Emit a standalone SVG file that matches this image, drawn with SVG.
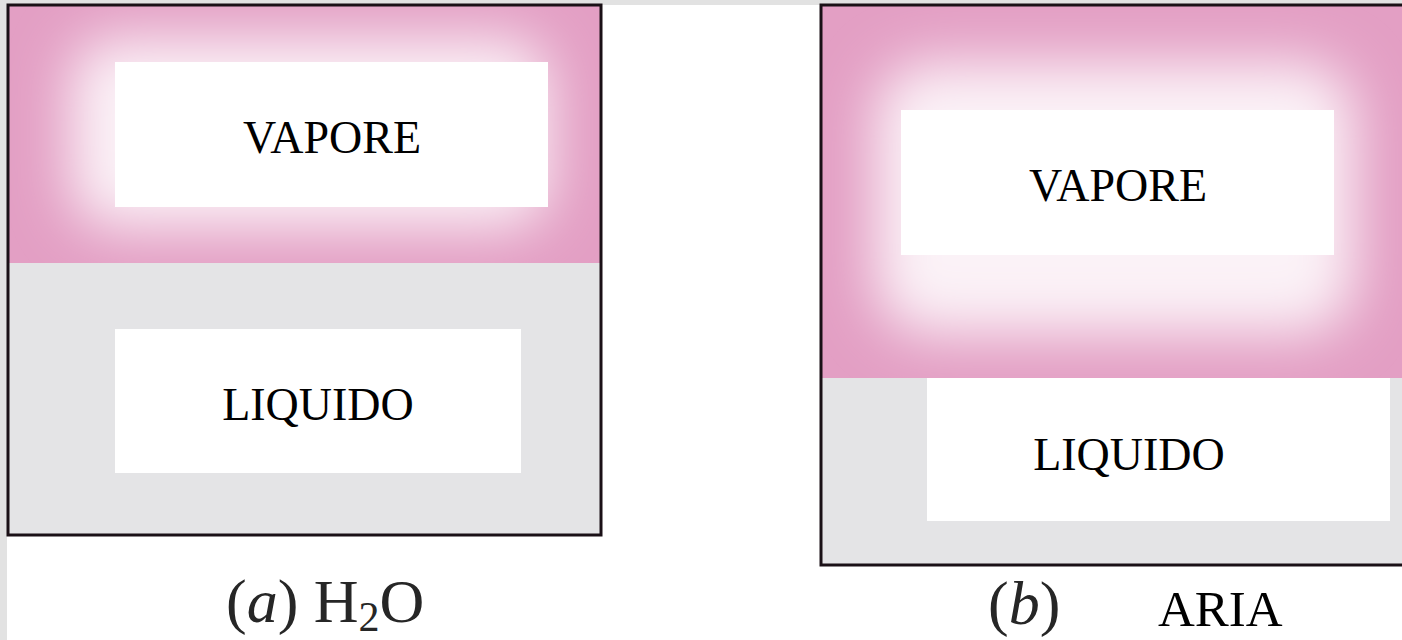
<svg xmlns="http://www.w3.org/2000/svg" width="1402" height="640" viewBox="0 0 1402 640">
  <style>
    .lbl { font-family: "Liberation Serif", "Times New Roman", serif; font-size: 46px; fill: #000; text-anchor: middle; }
    .cap { font-family: "Liberation Serif", "Times New Roman", serif; font-size: 62px; fill: #262626; }
    .box { fill: #ffffff; }
    .liq { fill: #e4e4e6; }
    .pink { fill: #e39fc4; }
    .glow { fill: #fbf2f7; }
    .frame { fill: none; stroke: #1a1016; stroke-width: 3; }
  </style>
  <defs>
    <filter id="soft" x="-50%" y="-50%" width="200%" height="200%">
      <feGaussianBlur stdDeviation="28"/>
    </filter>
    <clipPath id="clipA"><rect x="8" y="5" width="593" height="258"/></clipPath>
    <clipPath id="clipB"><rect x="821" y="5" width="600" height="373"/></clipPath>
  </defs>
  <rect x="0" y="0" width="1402" height="640" fill="#ffffff"/>
  <rect x="0" y="0" width="1402" height="5" fill="#e2e2e2"/>
  <rect x="0" y="0" width="7" height="640" fill="#e2e2e2"/>

  <g id="panel-a">
    <rect class="liq" x="8" y="5" width="593" height="530"/>
    <g clip-path="url(#clipA)">
      <rect class="pink" x="8" y="5" width="593" height="258"/>
      <rect class="glow" x="70" y="38" width="480" height="190" rx="45" filter="url(#soft)"/>
    </g>
    <rect class="frame" x="8" y="5" width="593" height="530"/>
  </g>
  <g id="vapore-a">
    <rect class="box" x="115" y="62" width="433" height="145"/>
    <text class="lbl" x="332" y="153">VAPORE</text>
  </g>
  <g id="liquido-a">
    <rect class="box" x="115" y="329" width="406" height="144"/>
    <text class="lbl" x="318" y="420">LIQUIDO</text>
  </g>

  <g id="panel-b">
    <rect class="liq" x="821" y="5" width="600" height="560"/>
    <g clip-path="url(#clipB)">
      <rect class="pink" x="821" y="5" width="600" height="373"/>
      <rect class="glow" x="875" y="62" width="480" height="272" rx="55" filter="url(#soft)"/>
    </g>
    <rect class="frame" x="821" y="5" width="600" height="560"/>
  </g>
  <g id="vapore-b">
    <rect class="box" x="901" y="110" width="433" height="145"/>
    <text class="lbl" x="1118" y="201">VAPORE</text>
  </g>
  <g id="liquido-b">
    <rect class="box" x="927" y="378" width="463" height="143"/>
    <text class="lbl" x="1129" y="470">LIQUIDO</text>
  </g>

  <g id="caption-a">
    <text class="cap" x="226" y="622">(<tspan font-style="italic">a</tspan>) H<tspan font-size="42" dy="9">2</tspan><tspan dy="-9">O</tspan></text>
  </g>
  <g id="caption-b">
    <text class="cap" x="988" y="624">(<tspan font-style="italic">b</tspan>)</text>
    <text x="1158" y="626" font-family="Liberation Serif, Times New Roman, serif" font-size="51" fill="#000">ARIA</text>
  </g>
</svg>
